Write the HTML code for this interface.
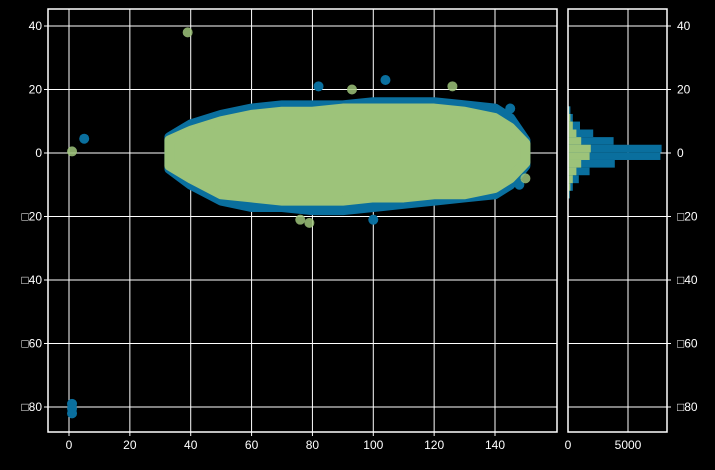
<!DOCTYPE html>
<html><head><meta charset="utf-8"><style>
body{margin:0;background:#000;width:715px;height:465px;overflow:hidden}
text{font-family:"Liberation Sans","DejaVu Sans",sans-serif;font-size:12px;fill:#fff}
</style></head><body>
<svg id="c" width="715" height="465" xmlns="http://www.w3.org/2000/svg"></svg>
<script>
const xTicks=[0,20,40,60,80,100,120,140];
const yTicks=[40,20,0,-20,-40,-60,-80];
const yTickLabels=["40","20","0","\u25A120","\u25A140","\u25A160","\u25A180"];
const hTicks=[0,5000];
const envX=[33,40,50,60,70,80,90,100,110,120,130,140,145,150];
const blueTop=[5,9,12,14,15,15,15,16,16,16,15,14,11,4];
const blueBot=[-5,-10,-15,-17,-17,-18,-18,-17,-16,-15,-14,-13,-10,-4];
const greenTop=[4,7,10,12,13,13,14,14,14,14,13,11,8,3];
const greenBot=[-4,-8,-13,-14,-15,-15,-15,-14,-14,-13,-13,-11,-8,-3];
const blueOutX=[5,1,1,1,82,104,100,145,148];
const blueOutY=[4.5,-79,-80.5,-82,21,23,-21,14,-10];
const greenOutX=[39,1,79,76,126,93,150];
const greenOutY=[38,0.5,-22,-21,21,20,-8];
const binEdges=[14.7,12.3,9.9,7.4,5.0,2.6,0.2,-2.2,-4.6,-7.0,-9.5,-11.9,-14.3];
const blueCounts=[200,400,1000,2100,3800,7800,7700,3900,1800,900,400,150];
const greenCounts=[100,200,400,700,1100,1900,1800,1100,700,400,200,100];

const svg=document.getElementById('c');const NS='http://www.w3.org/2000/svg';
const L=48,R=557,T=9,B=432,HL=568,HR=667;
const X=v=>69+(v-0)*(495-69)/140;
const Y=v=>153-v*(407-153)/80;
const HX=v=>HL+v*60/5000;
function el(t,a,p){const e=document.createElementNS(NS,t);for(const k in a)e.setAttribute(k,a[k]);(p||svg).appendChild(e);return e;}
const BLUE='#0a6f9e',GREEN='#9dc37a';
// grids
xTicks.forEach(v=>{const g=el('line',{x1:X(v),x2:X(v),y1:T,y2:B,stroke:'#fff','stroke-width':1});
 const t=el('text',{x:X(v),y:B+17,'text-anchor':'middle'});t.textContent=v;
 el('line',{x1:X(v),x2:X(v),y1:B,y2:B+4,stroke:'#fff'});});
yTicks.forEach((v,i)=>{const g=el('line',{x1:L,x2:R,y1:Y(v),y2:Y(v),stroke:'#fff','stroke-width':1});
 const g2=el('line',{x1:HL,x2:HR,y1:Y(v),y2:Y(v),stroke:'#fff','stroke-width':1});
 const t=el('text',{x:L-6,y:Y(v)+4,'text-anchor':'end'});t.textContent=yTickLabels[i];
 const t2=el('text',{x:HR+10,y:Y(v)+4});t2.textContent=yTickLabels[i];
 el('line',{x1:L-4,x2:L,y1:Y(v),y2:Y(v),stroke:'#fff'});el('line',{x1:HR,x2:HR+4,y1:Y(v),y2:Y(v),stroke:'#fff'});});
hTicks.forEach(v=>{const g=el('line',{x1:HX(v),x2:HX(v),y1:T,y2:B,stroke:'#fff'});
 const t=el('text',{x:HX(v),y:B+17,'text-anchor':'middle'});t.textContent=v;});
// blobs
function blob(top,bot,col,name){let d='';envX.forEach((x,i)=>{d+=(i?'L':'M')+X(x)+' '+Y(top[i]);});for(let i=envX.length-1;i>=0;i--)d+='L'+X(envX[i])+' '+Y(bot[i]);d+='Z';
 const p=el('path',{d:d,fill:col,stroke:col,'stroke-width':10,'stroke-linejoin':'round'});}
blob(blueTop,blueBot,BLUE,'blue-scatter-cloud');
blueOutX.forEach((x,i)=>{const c=el('circle',{cx:X(x),cy:Y(blueOutY[i]),r:5,fill:BLUE});});
blob(greenTop,greenBot,GREEN,'green-scatter-cloud');
greenOutX.forEach((x,i)=>{const c=el('circle',{cx:X(x),cy:Y(greenOutY[i]),r:5,fill:GREEN,opacity:0.85});});
// hist
blueCounts.forEach((c,i)=>{const r=el('rect',{x:HL,y:Y(binEdges[i]),width:HX(c)-HL,height:Y(binEdges[i+1])-Y(binEdges[i]),fill:BLUE});});
greenCounts.forEach((c,i)=>{const r=el('rect',{x:HL,y:Y(binEdges[i]),width:HX(c)-HL,height:Y(binEdges[i+1])-Y(binEdges[i]),fill:GREEN});});
// frames
const f1=el('rect',{x:L,y:T,width:R-L,height:B-T,fill:'none',stroke:'#fff','stroke-width':1.5});
const f2=el('rect',{x:HL,y:T,width:HR-HL,height:B-T,fill:'none',stroke:'#fff','stroke-width':1.5});
</script>
</body></html>
